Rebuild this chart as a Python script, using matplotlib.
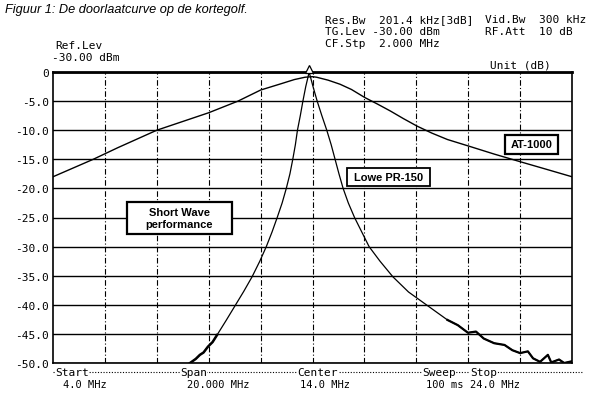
import matplotlib
matplotlib.use('Agg')
import matplotlib.pyplot as plt
from matplotlib.lines import Line2D
from matplotlib.patches import Rectangle

# Lowe PR-150 trace (MHz, dB)
lowe_f = [9.28, 9.5, 9.66, 9.8, 9.97, 10.15, 10.32, 10.67, 11.01, 11.35, 11.67, 11.97,
          12.22, 12.44, 12.64, 12.83, 12.99, 13.13, 13.24, 13.34, 13.42, 13.53, 13.63,
          13.74, 13.82, 13.87, 13.93, 14.02, 14.18, 14.36, 14.55, 14.72, 14.87, 15.02,
          15.18, 15.38, 15.62, 15.9, 16.18, 16.6, 17.1, 17.7, 18.45, 19.2, 19.6, 19.99,
          20.3, 20.6, 21.0, 21.4, 21.7, 22.0, 22.3, 22.5, 22.77, 23.07, 23.2, 23.5, 23.7, 24.0]
lowe_db = [-50.0, -49.3, -48.6, -48.2, -47.2, -46.4, -45.2, -42.7, -40.2, -37.7, -35.2, -32.5,
           -30.0, -27.5, -25.0, -22.5, -20.0, -17.5, -15.0, -12.5, -10.0, -7.5, -5.0,
           -2.5, -1.0, 0.0, -1.0, -2.5, -5.0, -7.5, -10.0, -12.5, -15.0, -17.5,
           -20.0, -22.5, -25.0, -27.5, -30.0, -32.5, -35.2, -37.8, -40.2, -42.6, -43.5, -44.8,
           -44.6, -45.8, -46.6, -46.9, -47.8, -48.3, -48.0, -49.2, -49.8, -48.6, -49.9, -49.4,
           -50.0, -49.7]

# AT-1000 trace (MHz, dB)
at_f = [4.0, 5.55, 6.5, 8.0, 9.0, 10.0, 11.13, 12.0, 12.8, 13.3, 13.71, 14.0, 14.16,
        14.6, 15.06, 15.5, 16.02, 16.5, 17.0, 17.5, 18.03, 18.6, 19.2, 20.07, 21.0,
        22.07, 23.0, 24.0]
at_db = [-18.0, -15.0, -13.0, -10.0, -8.5, -7.0, -5.0, -3.1, -2.0, -1.3, -0.9, -0.8, -0.9,
         -1.4, -2.1, -3.0, -4.4, -5.5, -6.7, -8.0, -9.3, -10.5, -11.6, -12.8, -14.1,
         -15.5, -16.7, -18.0]

x_grid = [4, 6, 8, 10, 12, 14, 16, 18, 20, 22, 24]
y_ticks = [0, -5, -10, -15, -20, -25, -30, -35, -40, -45, -50]
y_labels = ['0', '-5.0', '-10.0', '-15.0', '-20.0', '-25.0', '-30.0', '-35.0',
            '-40.0', '-45.0', '-50.0']

MONO = 'DejaVu Sans Mono'
SANS = 'Liberation Sans'

W, H = 600, 414
fig = plt.figure(figsize=(6, 4.14), dpi=100)
ax = fig.add_axes([53 / W, 1 - 364 / H, (572 - 53) / W, (364 - 73) / H])

ax.set_xlim(4, 24)
ax.set_ylim(-50, 0)

for y in y_ticks:
    ax.axhline(y, color='black', lw=1.0, zorder=1)
for x in x_grid[1:-1]:
    ax.axvline(x, color='black', lw=0.8, ls=(0, (5, 2, 1, 2)), zorder=1)

ax.plot(at_f, at_db, color='black', lw=1.0, zorder=3)
ax.plot(lowe_f, lowe_db, color='black', lw=0.9, zorder=3)
# noisy tails look thicker on the analyser plot
ax.plot(lowe_f[:7], lowe_db[:7], color='black', lw=1.8, zorder=3)
ax.plot(lowe_f[43:], lowe_db[43:], color='black', lw=1.6, zorder=3)
# marker at the peak
ax.plot([13.87], [0.45], marker='^', ms=6, mfc='white', mec='black', mew=0.9,
        clip_on=False, zorder=4)

for s in ax.spines.values():
    s.set_linewidth(1.2)
ax.spines['top'].set_linewidth(2.0)

ax.set_xticks([])
ax.set_yticks(y_ticks)
ax.set_yticklabels(y_labels, fontfamily=MONO, fontsize=8)
ax.tick_params(axis='y', length=0, pad=3)


# labelled boxes: (x0, x1, y0, y1) in MHz / dB
def label_box(x0, x1, y0, y1, text, lw):
    ax.add_patch(Rectangle((x0, y1), x1 - x0, y0 - y1, fc='white', ec='black',
                           lw=lw, zorder=5))
    ax.text((x0 + x1) / 2, (y0 + y1) / 2, text, fontfamily=SANS, fontweight='bold',
            fontsize=8, ha='center', va='center', linespacing=1.25, zorder=6)


label_box(21.42, 23.46, -10.8, -14.1, 'AT-1000', 1.6)
label_box(15.33, 18.53, -16.5, -19.6, 'Lowe PR-150', 1.3)
label_box(6.85, 10.9, -22.3, -27.8, 'Short Wave\nperformance', 1.6)


def ftext(x, y, s, **kw):
    kw.setdefault('fontfamily', MONO)
    kw.setdefault('fontsize', 8)
    kw.setdefault('va', 'center')
    return fig.text(x / W, 1 - y / H, s, **kw)


ftext(5, 10, 'Figuur 1: De doorlaatcurve op de kortegolf.', fontfamily=SANS,
      style='italic', fontsize=9.2)

ftext(325, 20, 'Res.Bw  201.4 kHz[3dB]')
ftext(325, 32, 'TG.Lev -30.00 dBm')
ftext(325, 44, 'CF.Stp  2.000 MHz')
ftext(485, 20, 'Vid.Bw  300 kHz')
ftext(485, 32, 'RF.Att  10 dB')
ftext(490, 65, 'Unit (dB)')
ftext(55, 46, 'Ref.Lev')
ftext(52, 58, '-30.00 dBm')

# bottom information line
fig.add_artist(Line2D([53 / W, 583 / W], [1 - 373 / H, 1 - 373 / H],
                      color='black', lw=0.8, ls=(0, (1, 1.5))))
wb = dict(fc='white', ec='none', pad=0.3)
for x, s in [(55, 'Start'), (180, 'Span'), (297, 'Center'), (422, 'Sweep'), (470, 'Stop')]:
    ftext(x, 373, s, bbox=wb)
for x, s in [(63, '4.0 MHz'), (187, '20.000 MHz'), (300, '14.0 MHz'),
             (426, '100 ms'), (470, '24.0 MHz')]:
    ftext(x, 385, s, fontsize=7.5)

fig.savefig('out.png', dpi=100, facecolor='white')
